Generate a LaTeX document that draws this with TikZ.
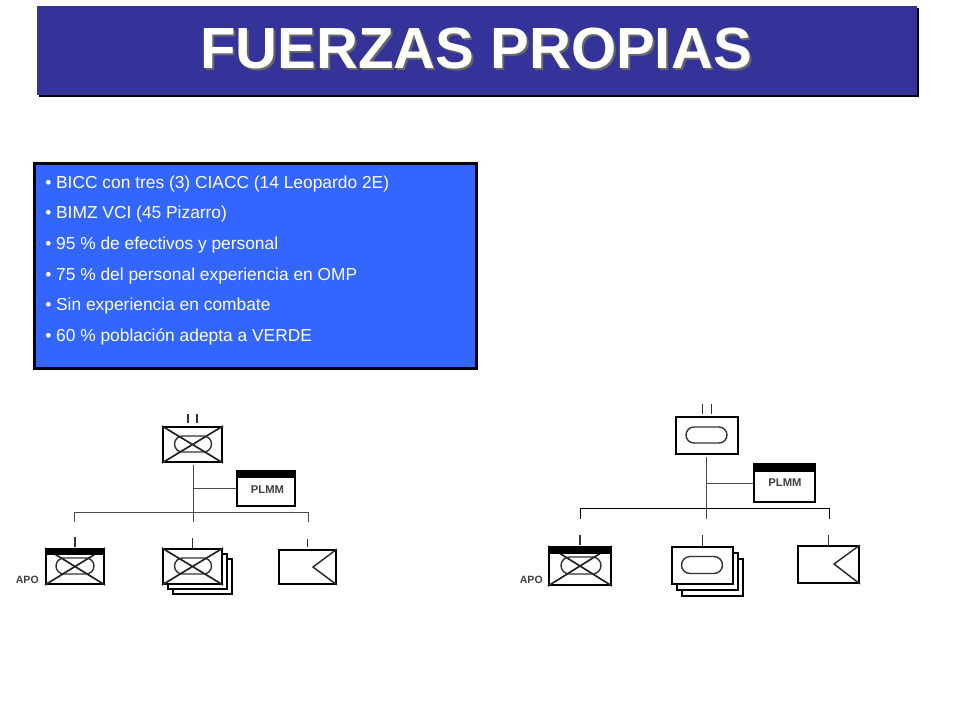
\documentclass[tikz,border=0pt]{standalone}
\usepackage{fontspec}
\setmainfont{Liberation Sans}
\usetikzlibrary{calc, shapes.misc}
\definecolor{titleblue}{HTML}{333399}
\definecolor{listblue}{HTML}{3366FF}
\tikzset{every picture/.style = {x=0.25mm, y=-0.25mm}}
\tikzset{bar/.style 2 args = {shape=rectangle, inner sep=0, minimum width=#1*0.25mm, minimum height=#2*0.25mm}}
\tikzset{unit/.style 2 args = {bar={#1}{#2}, draw=black, fill=white, line width=1.3pt}}
\tikzset{band/.style 2 args = {bar={#1}{#2}, fill=black, anchor=north}}
\tikzset{oval/.style 2 args = {rounded rectangle, draw=black!80, line width=1pt, inner sep=0, minimum width=#1*0.25mm, minimum height=#2*0.25mm}}
\tikzset{sym/.style = {black!85, line width=1pt}}
\tikzset{link/.style = {black!70, line width=0.7pt}}
\tikzset{tick/.style = {black!80, line width=1.1pt}}
\tikzset{small/.style = {black!75, font=\bfseries\fontsize{8}{8}\selectfont, inner sep=0}}
\tikzset{apo/.style = {small, anchor=east, font=\bfseries\fontsize{7.5}{8}\selectfont}}
\tikzset{item/.style = {white, anchor=base west, inner sep=0, font=\fontsize{12.35}{14}\selectfont}}
\newcommand{\crossed}[1]{\draw[sym] (#1.north west) -- (#1.south east) (#1.north east) -- (#1.south west);}
\newcommand{\recon}[3]{\draw[sym] (#1.north east) -- (#2, #3) -- (#1.south east);}

\begin{document}
\begin{tikzpicture}
  \useasboundingbox (0, 0) rectangle (960, 720);

  % title
  \node[bar={880}{89}, fill=black] (titleshadow) at (479, 52.5) {};
  \node[bar={880}{89}, fill=titleblue] (titlebar) at (477, 50.5) {};
  \node[black!60, anchor=base, inner sep=0, font=\bfseries\fontsize{41.3}{44}\selectfont] (titleback) at (478, 70) {FUERZAS PROPIAS};
  \node[white, anchor=base, inner sep=0, font=\bfseries\fontsize{41.3}{44}\selectfont] (title) at (476, 68) {FUERZAS PROPIAS};

  % list
  \node[bar={442}{205}, draw=black, fill=listblue, line width=1.9pt] (listbox) at (255.5, 266) {};
  \foreach \i/\txt in {0/BICC con tres (3) CIACC (14 Leopardo 2E), 1/BIMZ VCI (45 Pizarro),
    2/95 \% de efectivos y personal, 3/75 \% del personal experiencia en OMP,
    4/Sin experiencia en combate, 5/60 \% población adepta a VERDE}
    \node[item] (item\i) at (45, 188 + 30.7*\i) {• \txt};

  % left chart
  \node[unit={59}{35}] (top1) at (192.5, 444.5) {};
  \crossed{top1}
  \node[oval={37}{16}] (top1oval) at (193, 444) {};
  \crossed{top1}
  \draw[tick] ($(top1.north)+(-4.5,-3)$) -- +(0,-9) ($(top1.north)+(4.5,-3)$) -- +(0,-9);

  \node[unit={58}{35}] (plmm1) at (266, 488.5) {};
  \node[band={58}{8}] (plmm1band) at (plmm1.north) {};
  \node[small] (plmm1text) at (267.5, 489.5) {PLMM};

  \node[unit={58}{35}] (apo1) at (75, 566.5) {};
  \crossed{apo1}
  \node[oval={38}{16}] (apo1oval) at (75, 566) {};
  \crossed{apo1}
  \node[band={58}{7}] (apo1band) at (apo1.north) {};
  \node[apo] (apo1text) at (39, 580) {APO};

  \node[unit={59}{35}] (inf1c) at (202.5, 576.5) {};
  \node[unit={59}{35}] (inf1b) at (197.5, 571.5) {};
  \node[unit={59}{35}] (inf1) at (192.5, 566.5) {};
  \crossed{inf1}
  \node[oval={37}{16}] (inf1oval) at (193, 566) {};
  \crossed{inf1}

  \node[unit={57}{34}] (rec1) at (307.5, 567) {};
  \recon{rec1}{313}{567}

  \coordinate (stem1) at (193, 465);
  \coordinate (drop1) at (193, 522);
  \coordinate (busl1) at (74, 512);
  \coordinate (busr1) at (308, 512);
  \draw[link] (stem1) -- (drop1);
  \draw[link] (stem1 |- plmm1.west) -- (plmm1.west);
  \draw[link] ($(busl1)+(0,10)$) -- (busl1) -- (busr1) -- ($(busr1)+(0,10)$);
  \draw[tick] ($(apo1.north)+(0,-1)$) -- +(0,-10);
  \draw[tick] (inf1.north) -- +(0,-10);
  \draw[tick] ($(rec1.north)+(0,-2)$) -- +(0,-8);

  % right chart
  \node[unit={62}{37}] (top2) at (707, 435.5) {};
  \node[oval={41}{16}] (top2oval) at (706.5, 435) {};
  \draw[tick] ($(top2.north)+(-4.5,-2)$) -- +(0,-10) ($(top2.north)+(4.5,-2)$) -- +(0,-10);

  \node[unit={61}{38}] (plmm2) at (784.5, 483) {};
  \node[band={61}{9}] (plmm2band) at (plmm2.north) {};
  \node[small] (plmm2text) at (785, 483) {PLMM};

  \node[unit={62}{38}] (apo2) at (580, 566) {};
  \crossed{apo2}
  \node[oval={40}{17}] (apo2oval) at (581, 565.5) {};
  \crossed{apo2}
  \node[band={62}{8}] (apo2band) at (apo2.north) {};
  \node[apo] (apo2text) at (543, 580) {APO};

  \node[unit={61}{37}] (inf2c) at (712.5, 577.5) {};
  \node[unit={61}{37}] (inf2b) at (707.5, 571.5) {};
  \node[unit={61}{37}] (inf2) at (702.5, 565.5) {};
  \node[oval={41}{17}] (inf2oval) at (702, 565) {};

  \node[unit={61}{37}] (rec2) at (828.5, 564.5) {};
  \recon{rec2}{834}{564}

  \coordinate (stem2) at (706, 457);
  \coordinate (drop2) at (706, 519);
  \coordinate (busl2) at (580, 508);
  \coordinate (busr2) at (829, 508);
  \draw[link] (stem2) -- (drop2);
  \draw[link] (stem2 |- plmm2.west) -- (plmm2.west);
  \draw[link, black] ($(busl2)+(0,11)$) -- (busl2) -- (busr2) -- ($(busr2)+(0,11)$);
  \draw[tick] ($(apo2.north)+(0,-1)$) -- +(0,-10);
  \draw[tick] (inf2.north) -- +(0,-11);
  \draw[tick] (rec2.north) -- +(0,-10);
\end{tikzpicture}
\end{document}
